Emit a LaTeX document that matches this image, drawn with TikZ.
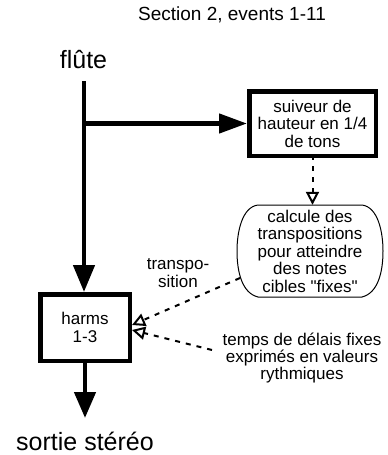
\documentclass[tikz,border=0pt]{standalone}
\usepackage{fontspec}
\setmainfont{Liberation Sans}[Ligatures=TeXOff]
\usetikzlibrary{arrows.meta,calc}
\begin{document}
\begin{tikzpicture}[x=1pt,y=-1pt,
  txt/.style={font=\fontsize{17}{17.5}\selectfont, align=center, inner sep=0pt},
  thickbox/.style={draw, line width=4.5pt, inner sep=0pt},
  bigflow/.style={line width=4.5pt, -{Triangle[length=27pt,width=21pt]}},
  dashflow/.style={line width=2pt, dash pattern=on 5pt off 6pt, -{Triangle[open,length=13pt,width=13pt,line width=2pt]}}
]
\useasboundingbox (0,0) rectangle (388,455);
% texts
\node[font=\fontsize{19}{20}\selectfont, anchor=base, inner sep=0pt] (title) at (232,20.5) {Section 2, events 1-11};
\node[font=\fontsize{25}{26}\selectfont, anchor=base, inner sep=0pt] (flute) at (83.5,68) {flûte};
\node[font=\fontsize{25}{26}\selectfont, anchor=base, inner sep=0pt] (sortie) at (85,450.5) {sortie stéréo};
% boxes
\node[thickbox, txt, minimum width=126.5pt, minimum height=64.5pt] (suiv) at (312.5,123.5) {suiveur de\\hauteur en 1/4\\de tons};
\node[thickbox, txt, minimum width=89.5pt, minimum height=66.5pt] (harms) at (85,327.5) {harms\\1-3};
\node[txt, minimum width=146pt, minimum height=92pt] (calc) at (310,251) {calcule des\\transpositions\\pour atteindre\\des notes\\cibles "fixes"};
\draw[line width=1pt] (258,205) -- (362,205) .. controls (378,207) and (383,232) .. (383,251) .. controls (383,272) and (378,293) .. (362,297) -- (258,297) .. controls (242,293) and (237,272) .. (237,251) .. controls (237,232) and (242,207) .. (258,205) -- cycle;
\node[txt] (transpo) at (178,273) {transpo-\\sition};
\node[txt] (temps) at (302,358) {temps de délais fixes\\exprimés en valeurs\\rythmiques};
% connectors
\coordinate (ftop) at (84,81);
\coordinate (fbranch) at (84,123.5);
\coordinate (calcout) at (240,278);
\coordinate (tempsout) at (212,350);
\draw[bigflow] (ftop) -- (ftop |- harms.north);
\draw[bigflow, -{Triangle[length=28pt,width=19pt]}] (fbranch) -- (suiv.west);
\draw[bigflow, -{Triangle[length=26pt,width=21pt]}] (harms.south) -- ++(0,55);
\draw[dashflow, dash phase=-8pt] (suiv.south) -- (suiv.south |- calc.north);
\draw[dashflow] (calcout) -- ($(harms.east)+(0,-2.5)$);
\draw[dashflow] (tempsout) -- ($(harms.east)+(0,2.5)$);
\end{tikzpicture}
\end{document}
